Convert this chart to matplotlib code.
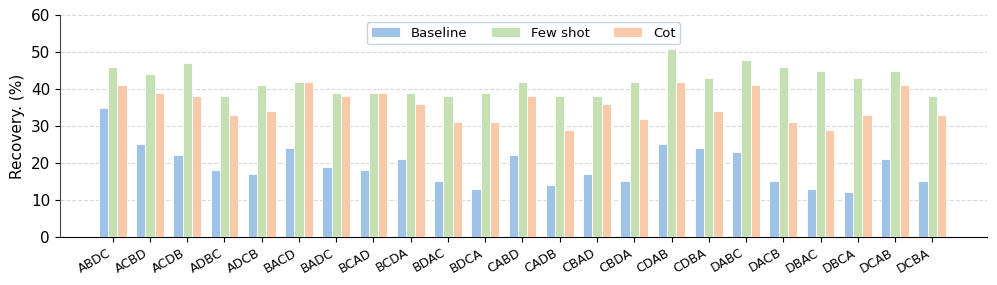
import numpy as np
import matplotlib.pyplot as plt

orders = ['ABDC', 'ACBD', 'ACDB', 'ADBC', 'ADCB', 'BACD', 'BADC', 'BCAD', 'BCDA', 'BDAC', 'BDCA', 'CABD',
          'CADB', 'CBAD', 'CBDA', 'CDAB', 'CDBA', 'DABC', 'DACB', 'DBAC', 'DBCA', 'DCAB', 'DCBA']
baseline = [35, 25, 22, 18, 17, 24, 19, 18, 21, 15, 13, 22, 14, 17, 15, 25, 24, 23, 15, 13, 12, 21, 15]
few_shot = [46, 44, 47, 38, 41, 42, 39, 39, 39, 38, 39, 42, 38, 38, 42, 51, 43, 48, 46, 45, 43, 45, 38]
cot = [41, 39, 38, 33, 34, 42, 38, 39, 36, 31, 31, 38, 29, 36, 32, 42, 34, 41, 31, 29, 33, 41, 33]

series = [('Baseline', baseline, '#9fc3e7'), ('Few shot', few_shot, '#c5e0b3'), ('Cot', cot, '#f8caa9')]

fig = plt.figure(figsize=(9.97, 2.85), dpi=100)
ax = fig.add_axes([0.060, 0.17, 0.930, 0.776])

x = np.arange(len(orders))
w = 0.25
for i, (name, vals, col) in enumerate(series):
    ax.bar(x + (i - 1) * w, vals, w, color=col, edgecolor='white', linewidth=0.6, label=name, zorder=3)

ax.set_xlim(-1.42, 23.47)
ax.set_ylim(0, 60)
ax.set_yticks(range(0, 61, 10))
ax.set_xticks(x)
ax.set_xticklabels(orders, rotation=30, ha='right', fontsize=9)
ax.tick_params(axis='y', labelsize=11)
ax.set_ylabel('Recovery. (%)', fontsize=11)
ax.grid(axis='y', linestyle='--', color='#d9d9d9', linewidth=0.8, zorder=0)
ax.spines['top'].set_visible(False)
ax.spines['right'].set_visible(False)
ax.spines['left'].set_color('#444444')

leg = ax.legend(loc='upper center', bbox_to_anchor=(0.5, 1.0), ncol=3, fontsize=9.5,
                handlelength=2.2, columnspacing=1.8, borderpad=0.35, fancybox=True, framealpha=1)
leg.get_frame().set_edgecolor('#c8d2e0')

fig.savefig('out.png', dpi=100)
